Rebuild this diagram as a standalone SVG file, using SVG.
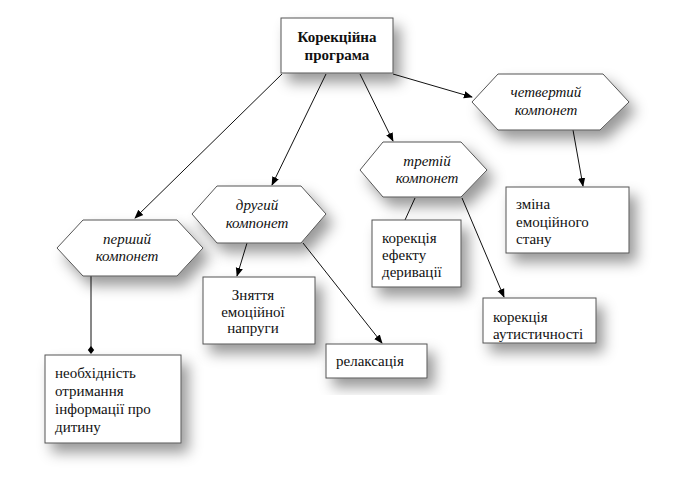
<svg xmlns="http://www.w3.org/2000/svg" width="677" height="490" viewBox="0 0 677 490">
<defs>
  <filter id="sh" x="-30%" y="-30%" width="170%" height="180%">
    <feDropShadow dx="7" dy="9" stdDeviation="7" flood-color="#000" flood-opacity="0.4"/>
  </filter>
  <marker id="arr" viewBox="0 0 10 10" refX="9" refY="5" markerWidth="9" markerHeight="9" markerUnits="userSpaceOnUse" orient="auto">
    <path d="M0,1 L10,5 L0,9 z" fill="#000"/>
  </marker>
  <marker id="dia" viewBox="0 0 10 10" refX="5" refY="5" markerWidth="8" markerHeight="8" markerUnits="userSpaceOnUse" orient="auto">
    <path d="M0,5 L5,1 L10,5 L5,9 z" fill="#000"/>
  </marker>
</defs>
<rect width="677" height="490" fill="#fff"/>
<g id="connectors" stroke="#111" stroke-width="1" fill="none">
  <line x1="282" y1="74" x2="135" y2="218" marker-end="url(#arr)"/>
  <line x1="326" y1="74" x2="272" y2="185" marker-end="url(#arr)"/>
  <line x1="360" y1="74" x2="393" y2="141" marker-end="url(#arr)"/>
  <line x1="393" y1="74" x2="472" y2="97" marker-end="url(#arr)"/>
  <line x1="573" y1="130" x2="583" y2="186" marker-end="url(#arr)"/>
  <line x1="91" y1="276" x2="91" y2="350" marker-end="url(#dia)"/>
  <line x1="247" y1="243" x2="237" y2="276" marker-end="url(#arr)"/>
  <line x1="303" y1="243" x2="382" y2="343" marker-end="url(#arr)"/>
  <line x1="415" y1="198" x2="405" y2="220"/>
  <line x1="462" y1="198" x2="504" y2="297" marker-end="url(#arr)"/>
</g>
<g id="main">
  <rect x="281" y="18" width="112" height="55" fill="#fff" stroke="#555" filter="url(#sh)"/>
  <text font-family="Liberation Serif, serif" font-size="15" font-weight="bold" text-anchor="middle" fill="#111" x="337" y="42">Корекційна</text>
  <text font-family="Liberation Serif, serif" font-size="15" font-weight="bold" text-anchor="middle" fill="#111" x="337" y="60">програма</text>
</g>
<g id="fourth">
  <polygon points="472,102 498,74 603,74 629,102 600,130 498,130" fill="#fff" stroke="#555" filter="url(#sh)"/>
  <text font-family="Liberation Serif, serif" font-size="15" font-style="italic" text-anchor="middle" fill="#111" x="546" y="97">четвертий</text>
  <text font-family="Liberation Serif, serif" font-size="15" font-style="italic" text-anchor="middle" fill="#111" x="546" y="115">компонет</text>
</g>
<g id="third">
  <polygon points="360,170 383,142 461,142 487,170 461,197 383,197" fill="#fff" stroke="#555" filter="url(#sh)"/>
  <text font-family="Liberation Serif, serif" font-size="15" font-style="italic" text-anchor="middle" fill="#111" x="427" y="166">третій</text>
  <text font-family="Liberation Serif, serif" font-size="15" font-style="italic" text-anchor="middle" fill="#111" x="427" y="183">компонет</text>
</g>
<g id="second">
  <polygon points="192,214 217,186 301,186 326,214 301,243 217,243" fill="#fff" stroke="#555" filter="url(#sh)"/>
  <text font-family="Liberation Serif, serif" font-size="15" font-style="italic" text-anchor="middle" fill="#111" x="257" y="210">другий</text>
  <text font-family="Liberation Serif, serif" font-size="15" font-style="italic" text-anchor="middle" fill="#111" x="257" y="228">компонет</text>
</g>
<g id="first">
  <polygon points="57,248 83,220 177,220 203,248 177,276 83,276" fill="#fff" stroke="#555" filter="url(#sh)"/>
  <text font-family="Liberation Serif, serif" font-size="15" font-style="italic" text-anchor="middle" fill="#111" x="127" y="244">перший</text>
  <text font-family="Liberation Serif, serif" font-size="15" font-style="italic" text-anchor="middle" fill="#111" x="127" y="261">компонет</text>
</g>
<g id="need">
  <rect x="45" y="355" width="136" height="88" fill="#fff" stroke="#555" filter="url(#sh)"/>
  <text font-family="Liberation Serif, serif" font-size="15" fill="#111" x="55" y="378">необхідність</text>
  <text font-family="Liberation Serif, serif" font-size="15" fill="#111" x="55" y="396">отримання</text>
  <text font-family="Liberation Serif, serif" font-size="15" fill="#111" x="55" y="414">інформації про</text>
  <text font-family="Liberation Serif, serif" font-size="15" fill="#111" x="55" y="432">дитину</text>
</g>
<g id="stress">
  <rect x="203" y="277" width="112" height="67" fill="#fff" stroke="#555" filter="url(#sh)"/>
  <text font-family="Liberation Serif, serif" font-size="15" text-anchor="middle" fill="#111" x="253" y="300">Зняття</text>
  <text font-family="Liberation Serif, serif" font-size="15" text-anchor="middle" fill="#111" x="253" y="317">емоційної</text>
  <text font-family="Liberation Serif, serif" font-size="15" text-anchor="middle" fill="#111" x="253" y="333">напруги</text>
</g>
<g id="relax">
  <rect x="326" y="344" width="101" height="34" fill="#fff" stroke="#555" filter="url(#sh)"/>
  <text font-family="Liberation Serif, serif" font-size="15" fill="#111" x="336" y="366">релаксація</text>
</g>
<g id="deriv">
  <rect x="372" y="220" width="89" height="67" fill="#fff" stroke="#555" filter="url(#sh)"/>
  <text font-family="Liberation Serif, serif" font-size="15" fill="#111" x="382" y="243">корекція</text>
  <text font-family="Liberation Serif, serif" font-size="15" fill="#111" x="382" y="260">ефекту</text>
  <text font-family="Liberation Serif, serif" font-size="15" fill="#111" x="382" y="277">деривації</text>
</g>
<g id="autism">
  <rect x="483" y="298" width="113" height="45" fill="#fff" stroke="#555" filter="url(#sh)"/>
  <text font-family="Liberation Serif, serif" font-size="15" fill="#111" x="493" y="322">корекція</text>
  <text font-family="Liberation Serif, serif" font-size="15" fill="#111" x="493" y="339">аутистичності</text>
</g>
<g id="emotion">
  <rect x="506" y="187" width="123" height="66" fill="#fff" stroke="#555" filter="url(#sh)"/>
  <text font-family="Liberation Serif, serif" font-size="15" fill="#111" x="516" y="209">зміна</text>
  <text font-family="Liberation Serif, serif" font-size="15" fill="#111" x="516" y="227">емоційного</text>
  <text font-family="Liberation Serif, serif" font-size="15" fill="#111" x="516" y="244">стану</text>
</g>
</svg>
